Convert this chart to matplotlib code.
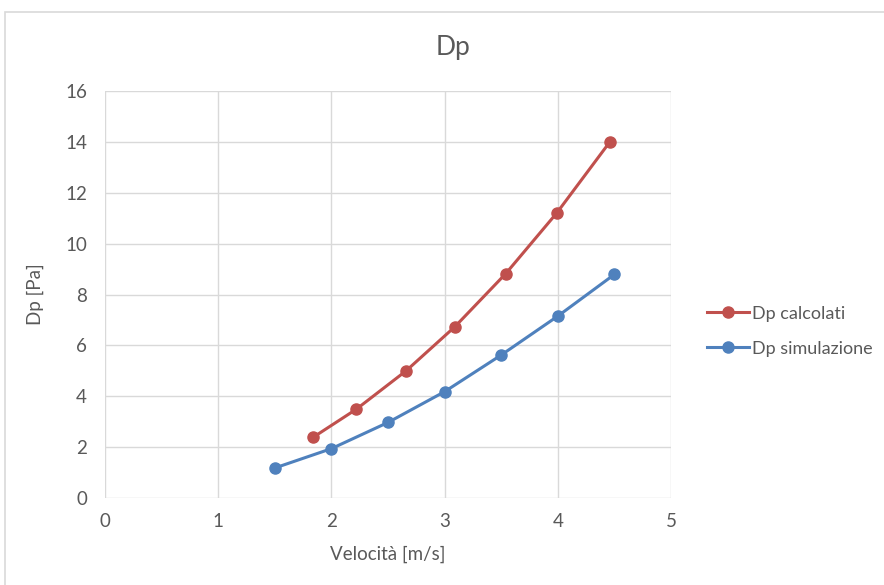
import matplotlib.pyplot as plt
from matplotlib.patches import Rectangle

# dati
vel_calc = [1.84, 2.22, 2.66, 3.09, 3.54, 3.99, 4.46]
dp_calc = [2.39, 3.49, 5.00, 6.73, 8.82, 11.20, 14.00]
vel_sim = [1.5, 2.0, 2.5, 3.0, 3.5, 4.0, 4.5]
dp_sim = [1.18, 1.94, 2.97, 4.18, 5.62, 7.15, 8.79]

plt.rcParams['font.family'] = ['Lato', 'DejaVu Sans']
grey = '#595959'

fig = plt.figure(figsize=(8.84, 5.85), dpi=100)
fig.patches.append(Rectangle((5 / 884, -0.1), 1.2, 1 - 12 / 585 + 0.1, transform=fig.transFigure,
                             fill=False, edgecolor='#d9d9d9', linewidth=1.2))

ax = fig.add_axes([105 / 884, 1 - 498 / 585, (671 - 105) / 884, (498 - 91) / 585])
ax.plot(vel_calc, dp_calc, color='#C0504D', lw=2.2, marker='o', ms=8, label='Dp calcolati')
ax.plot(vel_sim, dp_sim, color='#4F81BD', lw=2.2, marker='o', ms=8, label='Dp simulazione')

ax.set_xlim(0, 5)
ax.set_ylim(0, 16)
ax.set_xticks(range(0, 6))
ax.set_yticks(range(0, 17, 2))
ax.grid(True, color='#d9d9d9', lw=1)
ax.set_axisbelow(True)
for s in ax.spines.values():
    s.set_visible(False)
ax.tick_params(length=0, labelsize=13.5, labelcolor=grey)
ax.tick_params(axis='y', pad=13)
ax.tick_params(axis='x', pad=11)

# titolo centrato sull'area del grafico, come in Excel
fig.text(453 / 884, 1 - 47 / 585, 'Dp', fontsize=19, color=grey, ha='center', va='center')
ax.set_xlabel('Velocità [m/s]', fontsize=13.5, color=grey, labelpad=11)
ax.set_ylabel('Dp [Pa]', fontsize=13.5, color=grey, labelpad=15)

ax.legend(loc='center left', bbox_to_anchor=(1.035, 0.41), frameon=False,
          fontsize=13, labelcolor=grey, handlelength=2.35, handletextpad=0.15,
          labelspacing=1.05)

fig.savefig('out.png', dpi=100)
